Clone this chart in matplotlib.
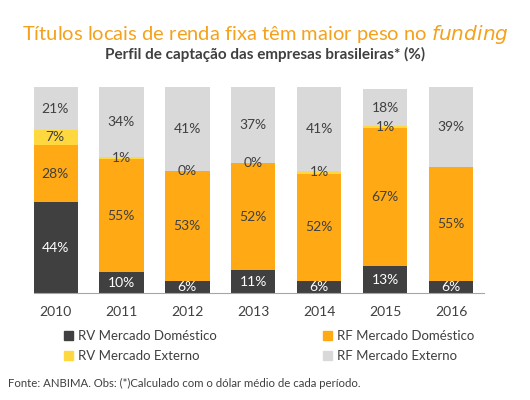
import numpy as np
import matplotlib.pyplot as plt
from matplotlib.patches import Patch

plt.rcParams['font.family'] = ['Lato', 'DejaVu Sans']

years = ['2010', '2011', '2012', '2013', '2014', '2015', '2016']
rv_dom = [44, 10, 6, 11, 6, 13, 6]
rf_dom = [28, 55, 53, 52, 52, 67, 55]
rv_ext = [7, 1, 0, 0, 1, 1, np.nan]
rf_ext = [21, 34, 41, 37, 41, 18, 39]
series_names = ['RV Mercado Doméstico', 'RF Mercado Doméstico',
                'RV Mercado Externo', 'RF Mercado Externo']

colors = ['#404040', '#FFAA14', '#FFD83F', '#D9D9D9']
label_colors = ['white', '#404040', '#404040', '#404040']


def main():
    fig = plt.figure(figsize=(5.3, 4.0), dpi=100)
    ax = fig.add_axes([34 / 530, 107 / 400, 450 / 530, 206 / 400])

    x = np.arange(len(years))
    bottom = np.zeros(len(years))
    for values, color, tcolor in zip([rv_dom, rf_dom, rv_ext, rf_ext], colors, label_colors):
        vals = np.array(values, dtype=float)
        heights = np.nan_to_num(vals)
        ax.bar(x, heights, bottom=bottom, width=0.68, color=color, linewidth=0)
        for xi, b, v in zip(x, bottom, vals):
            if np.isnan(v):
                continue
            ax.text(xi, b + v / 2, f'{v:.0f}%', ha='center', va='center',
                    fontsize=10, color=tcolor)
        bottom += heights

    ax.set_xlim(-0.32, 6.5)
    ax.set_ylim(0, 100)
    ax.set_yticks([])
    ax.set_xticks(x, years)
    ax.tick_params(axis='x', length=0, pad=9, labelsize=10, labelcolor='#404040')
    for side in ['top', 'right', 'left']:
        ax.spines[side].set_visible(False)
    ax.spines['bottom'].set_color('#A6A6A6')
    ax.spines['bottom'].set_linewidth(0.8)

    fig.text(0.5, 1 - 35 / 400, 'Títulos locais de renda fixa têm maior peso no $\\it{funding}$',
             ha='center', va='center', fontsize=14.5, color='#F4A21C')
    fig.text(0.5, 1 - 54 / 400, 'Perfil de captação das empresas brasileiras* (%)',
             ha='center', va='center', fontsize=11, fontweight='bold', color='#404040')

    handles = [Patch(color=c) for c in colors]
    order = [0, 2, 1, 3]
    fig.legend([handles[i] for i in order], [series_names[i] for i in order],
               ncol=2, loc='center left', bbox_to_anchor=(52 / 530, 1 - 346 / 400),
               frameon=False, fontsize=9.5, handlelength=0.7, handleheight=0.7,
               handletextpad=0.4, columnspacing=8.0, labelspacing=0.6,
               labelcolor='#404040')

    fig.text(8 / 530, 1 - 383 / 400,
             'Fonte: ANBIMA. Obs: (*)Calculado com o dólar médio de cada período.',
             ha='left', va='center', fontsize=8.2, color='#404040')

    fig.savefig('out.png', dpi=100)


if __name__ == '__main__':
    main()
